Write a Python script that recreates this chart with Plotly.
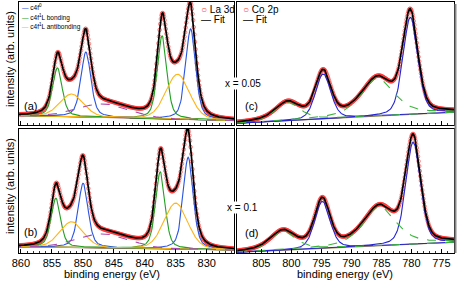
import numpy as np
import plotly.graph_objects as go

W, H = 457, 281

# ---------------- data ----------------
# La 3d, x = 0.05 (panel a): components c4f0 (3d5/2), c4f1L bond., c4f1L antibond., same for 3d3/2, loss feature
la_a_center = [832.6, 837.2, 834.7, 849.5, 854.1, 851.8, 846.7]
la_a_height = [0.905, 0.83, 0.45, 0.65, 0.485, 0.227, 0.135]
la_a_fwhm = [1.9, 1.8, 4.5, 1.9, 1.8, 4.5, 10.0]
la_a_eta = [0.45, 0.45, 0.2, 0.45, 0.45, 0.2, 0.0]
la_a_base = [0.045, 0.095]   # background at 825.6 eV and 860.3 eV

# La 3d, x = 0.1 (panel b)
la_b_center = [833.0, 837.5, 835.0, 849.95, 854.35, 851.8, 846.7]
la_b_height = [0.92, 0.77, 0.46, 0.644, 0.49, 0.258, 0.14]
la_b_fwhm = [1.9, 1.8, 4.5, 1.9, 1.8, 4.5, 10.0]
la_b_eta = [0.45, 0.45, 0.2, 0.45, 0.45, 0.2, 0.0]
la_b_base = [0.03, 0.063]

la_kind = ["c4f0", "bond", "anti", "c4f0", "bond", "anti", "loss"]

# Co 2p, x = 0.05 (panel c): 2p3/2, 2p1/2 main lines, 2p3/2 and 2p1/2 satellites
co_c_center = [780.17, 794.7, 785.6, 800.6]
co_c_height = [0.972, 0.45, 0.38, 0.18]
co_c_fwhm = [2.9, 3.0, 6.5, 5.0]
co_c_eta = [0.3, 0.3, 0.6, 0.6]
co_c_base = [0.127, 0.017]   # background at 773 eV and 808.4 eV

# Co 2p, x = 0.1 (panel d)
co_d_center = [779.7, 794.83, 785.3, 801.4]
co_d_height = [1.02, 0.47, 0.39, 0.19]
co_d_fwhm = [2.9, 3.0, 6.5, 5.0]
co_d_eta = [0.3, 0.3, 0.6, 0.6]
co_d_base = [0.107, 0.007]

co_kind = ["main", "main", "sat", "sat"]

la_range = [860.3, 825.6]
co_range = [809.05, 772.9]
la_ticks = [860, 855, 850, 845, 840, 835, 830]
co_ticks = [805, 800, 795, 790, 785, 780, 775]

# measurement grids
la_E = np.arange(825.6, 860.31, 0.1)
co_E = np.arange(772.9, 809.06, 0.1)


def pv(E, c, h, w, eta):
    d = (E - c) / w
    return h * ((1 - eta) * np.exp(-4 * np.log(2) * d * d) + eta / (1 + 4 * d * d))


LA_COL = {"c4f0": "#2a55de", "bond": "#22a022", "anti": "#ffb418", "loss": "#a848b0"}
CO_COL = {"main": "#2424d4", "sat": "#3cb43c"}

fig = go.Figure()


def panel(xa, ya, E, erange, centers, heights, fwhms, etas, base, kinds, cols, basecol):
    bg = np.interp(E, [erange[1], erange[0]], [base[0], base[1]])
    comps = [pv(E, c, h, w, e) for c, h, w, e in zip(centers, heights, fwhms, etas)]
    fit = bg + np.sum(comps, axis=0)
    fig.add_trace(go.Scatter(x=E, y=fit, mode="markers", xaxis=xa, yaxis=ya,
                             marker=dict(symbol="circle-open", size=3.6,
                                         color="rgba(255,50,50,0.75)", line=dict(width=0.8)),
                             showlegend=False, hoverinfo="skip"))
    fig.add_trace(go.Scatter(x=E, y=bg, mode="lines", xaxis=xa, yaxis=ya,
                             line=dict(color=basecol, width=1.1), showlegend=False, hoverinfo="skip"))
    for k, cp in zip(kinds, comps):
        dash = "dash" if k in ("loss", "sat") else "solid"
        fig.add_trace(go.Scatter(x=E, y=bg + cp, mode="lines", xaxis=xa, yaxis=ya,
                                 line=dict(color=cols[k], width=1.1, dash=dash),
                                 showlegend=False, hoverinfo="skip"))
    fig.add_trace(go.Scatter(x=E, y=fit, mode="lines", xaxis=xa, yaxis=ya,
                             line=dict(color="black", width=1.7), showlegend=False, hoverinfo="skip"))


panel("x", "y", la_E, la_range, la_a_center, la_a_height, la_a_fwhm, la_a_eta, la_a_base,
      la_kind, LA_COL, "#8a2a2a")
panel("x2", "y2", co_E, co_range, co_c_center, co_c_height, co_c_fwhm, co_c_eta, co_c_base,
      co_kind, CO_COL, "#9c8240")
panel("x3", "y3", la_E, la_range, la_b_center, la_b_height, la_b_fwhm, la_b_eta, la_b_base,
      la_kind, LA_COL, "#8a2a2a")
panel("x4", "y4", co_E, co_range, co_d_center, co_d_height, co_d_fwhm, co_d_eta, co_d_base,
      co_kind, CO_COL, "#9c8240")

FONT = "Liberation Sans, Arial, Helvetica, sans-serif"


def px(x):
    return x / W


def py(y):
    return 1 - y / H


left_dom = [px(19), px(234)]
right_dom = [px(237), px(454)]
top_dom = [py(125), py(2)]
bot_dom = [py(253), py(129)]


def xax(dom, rng, ticks, anchor, labels):
    d = dict(domain=dom, range=rng, anchor=anchor, tickvals=ticks,
             showticklabels=labels, ticks="inside", ticklen=4, tickwidth=1, tickcolor="black",
             minor=dict(dtick=1, ticks="inside", ticklen=2.5, tickwidth=0.8, tickcolor="black"),
             showline=True, linecolor="black", linewidth=1, mirror=True,
             showgrid=False, zeroline=False, automargin=False,
             tickfont=dict(family=FONT, size=11, color="black"))
    return d


def yax(dom, rng, anchor):
    return dict(domain=dom, range=rng, anchor=anchor, showticklabels=False, ticks="",
                showline=True, linecolor="black", linewidth=1, mirror=True,
                showgrid=False, zeroline=False, automargin=False)


fig.update_layout(
    width=W, height=H, margin=dict(l=0, r=0, t=0, b=0),
    paper_bgcolor="white", plot_bgcolor="white", template="none",
    font=dict(family=FONT, size=11, color="black"),
    xaxis=xax(left_dom, la_range, la_ticks, "y", False),
    yaxis=yax(top_dom, [0, 1.23], "x"),
    xaxis2=xax(right_dom, co_range, co_ticks, "y2", False),
    yaxis2=yax(top_dom, [0, 1.23], "x2"),
    xaxis3=xax(left_dom, la_range, la_ticks, "y3", True),
    yaxis3=yax(bot_dom, [0, 1.24], "x3"),
    xaxis4=xax(right_dom, co_range, co_ticks, "y4", True),
    yaxis4=yax(bot_dom, [0, 1.24], "x4"),
)

ann = []


def A(text, x, y, size, xanchor="left", angle=0, bg=None):
    d = dict(text=text, x=px(x), y=py(y), xref="paper", yref="paper", showarrow=False,
             xanchor=xanchor, yanchor="middle", textangle=angle,
             font=dict(family=FONT, size=size, color="black"))
    if bg:
        d["bgcolor"] = bg
        d["borderpad"] = 0
    ann.append(d)


# component legend (panel a)
A("<span style='color:%s'>—</span> c4f<sup>0</sup>" % LA_COL["c4f0"], 20, 7, 6.5)
A("<span style='color:%s'>—</span> c4f<sup>1</sup>L bonding" % LA_COL["bond"], 20, 17, 6.5)
A("<span style='color:%s'>—</span> c4f<sup>1</sup>L antibonding" % LA_COL["anti"], 20, 26, 6.5)
# data / fit legends
A("<span style='color:#ff4040'>○</span> La 3d", 199, 10, 10)
A("— Fit", 199, 20, 10)
A("<span style='color:#ff4040'>○</span> Co 2p", 241, 10, 10)
A("— Fit", 241, 20, 10)
# panel labels
A("(a)", 22, 106, 11)
A("(b)", 22, 232, 11)
A("(c)", 243, 106, 11)
A("(d)", 243, 233, 11)
# composition labels
A("x = 0.05", 243, 83, 10, "center", bg="white")
A("x = 0.1", 243, 207, 10, "center", bg="white")
# axis titles
A("intensity (arb. units)", 10, 59, 11, "center", -90)
A("intensity (arb. units)", 10, 186, 11, "center", -90)
A("binding energy (eV)", 112, 274, 11, "center")
A("binding energy (eV)", 345, 274, 11, "center")
fig.update_layout(annotations=ann)

# grey shadow on the right edge
fig.add_shape(type="line", xref="paper", yref="paper", x0=px(455.5), x1=px(455.5),
              y0=py(253), y1=py(4), line=dict(color="#888888", width=2))

fig.write_html("out.html", config={"displayModeBar": False, "staticPlot": True},
               post_script="document.body.style.margin='0';document.body.style.overflow='hidden';")
